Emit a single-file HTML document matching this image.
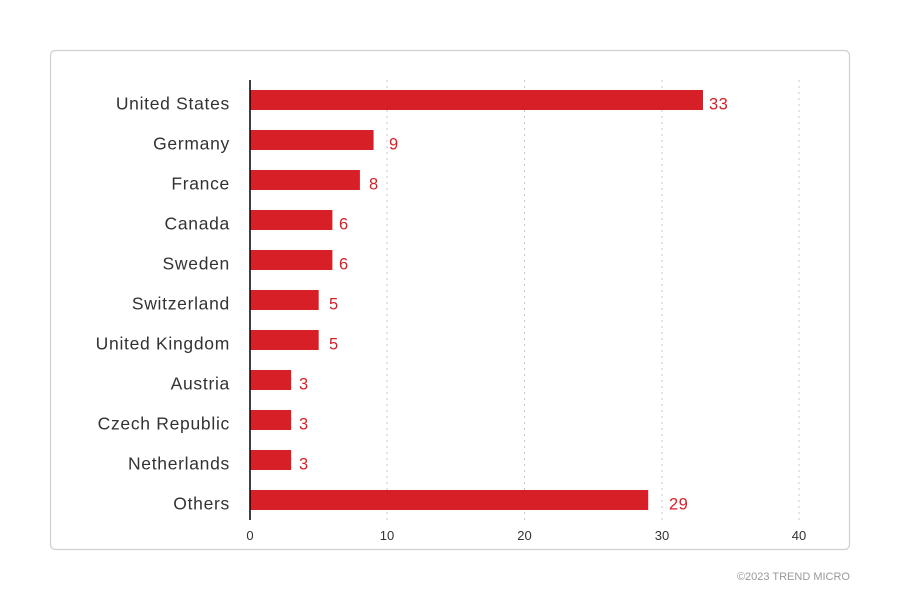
<!DOCTYPE html>
<html><head><meta charset="utf-8"><style>
body{margin:0;background:#fff;width:900px;height:600px;overflow:hidden;font-family:"Liberation Sans",sans-serif}
</style></head><body>
<svg width="900" height="600" xmlns="http://www.w3.org/2000/svg" font-family="Liberation Sans, sans-serif">
<rect x="50.5" y="50.5" width="799" height="499" rx="5" fill="#fff" stroke="#d0d0d0" stroke-width="1.2"/>
<g stroke="#c8c8c8" stroke-width="1" stroke-dasharray="2,4">
<line x1="387" y1="80" x2="387" y2="520"/>
<line x1="524.5" y1="80" x2="524.5" y2="520"/>
<line x1="662" y1="80" x2="662" y2="520"/>
<line x1="799" y1="80" x2="799" y2="520"/>
</g>
<g fill="#d71f27">
<rect x="250" y="90" width="453" height="20"/>
<rect x="250" y="130" width="123.6" height="20"/>
<rect x="250" y="170" width="109.9" height="20"/>
<rect x="250" y="210" width="82.4" height="20"/>
<rect x="250" y="250" width="82.4" height="20"/>
<rect x="250" y="290" width="68.7" height="20"/>
<rect x="250" y="330" width="68.7" height="20"/>
<rect x="250" y="370" width="41.2" height="20"/>
<rect x="250" y="410" width="41.2" height="20"/>
<rect x="250" y="450" width="41.2" height="20"/>
<rect x="250" y="490" width="398.2" height="20"/>
</g>
<line x1="250" y1="80" x2="250" y2="520" stroke="#000" stroke-width="1.5"/>
<g font-size="17.5" fill="#333" text-anchor="end" letter-spacing="0.7">
<text x="230" y="109.5">United States</text>
<text x="230" y="149.5">Germany</text>
<text x="230" y="189.5">France</text>
<text x="230" y="229.5">Canada</text>
<text x="230" y="269.5">Sweden</text>
<text x="230" y="309.5">Switzerland</text>
<text x="230" y="349.5">United Kingdom</text>
<text x="230" y="389.5">Austria</text>
<text x="230" y="429.5">Czech Republic</text>
<text x="230" y="469.5">Netherlands</text>
<text x="230" y="509.5">Others</text>
</g>
<g font-size="16.5" fill="#d71f27" letter-spacing="0.5">
<text x="709" y="109.5">33</text>
<text x="389" y="149.5">9</text>
<text x="369" y="189.5">8</text>
<text x="339" y="229.5">6</text>
<text x="339" y="269.5">6</text>
<text x="329" y="309.5">5</text>
<text x="329" y="349.5">5</text>
<text x="299" y="389.5">3</text>
<text x="299" y="429.5">3</text>
<text x="299" y="469.5">3</text>
<text x="669" y="509.5">29</text>
</g>
<g font-size="13" fill="#333" text-anchor="middle">
<text x="250" y="540">0</text>
<text x="387" y="540">10</text>
<text x="524.5" y="540">20</text>
<text x="662" y="540">30</text>
<text x="799" y="540">40</text>
</g>
<text x="850" y="580" font-size="11" fill="#999" text-anchor="end">©2023 TREND MICRO</text>
</svg>
</body></html>
